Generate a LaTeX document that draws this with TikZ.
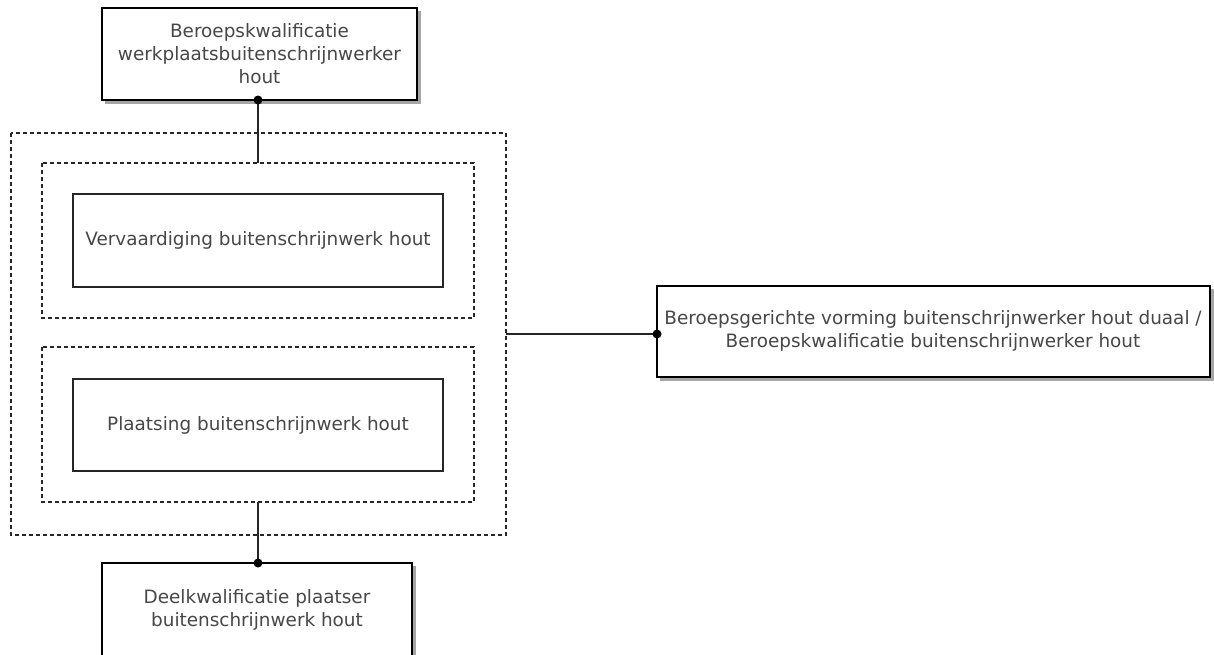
\documentclass[tikz,border=0pt]{standalone}
\usepackage{fontspec}
\setmainfont{DejaVu Sans}
\begin{document}
\begin{tikzpicture}[x=1pt,y=-1pt,
  txt/.style={text=black!72, font=\fontsize{18.4}{23}\selectfont, align=center},
  innerbox/.style={draw=black!85, line width=1.3pt, fill=white},
  thickbox/.style={draw=black, line width=2.8pt, fill=white},
  shadow/.style={fill=black!35},
  dashbox/.style={draw=black!85, line width=1.1pt, dash pattern=on 4pt off 3pt},
  conn/.style={draw=black!85, line width=1.4pt},
  dot/.style={circle, fill=black, inner sep=0pt, minimum size=9pt}]
\useasboundingbox (0,0) rectangle (1214,654);
% shadows
\fill[shadow] (105,11) rectangle (421,104);
\fill[shadow] (105,566) rectangle (416,660);
\fill[shadow] (660,289) rectangle (1214,381);
% dashed containers
\draw[dashbox] (11,133) rectangle (506,535);
\draw[dashbox] (42,163) rectangle (474,318);
\draw[dashbox] (42,347) rectangle (474,502);
% inner boxes
\draw[innerbox] (73,194) rectangle (443,287);
\node[txt] (v) at (258,240.5) {Vervaardiging buitenschrijnwerk hout};
\draw[innerbox] (73,379) rectangle (443,471);
\node[txt] (p) at (258,425) {Plaatsing buitenschrijnwerk hout};
% thick boxes
\draw[thickbox] (102,8) rectangle (417,100);
\node[txt] (top) at (259.5,54) {Beroepskwalificatie\\werkplaatsbuitenschrijnwerker\\hout};
\draw[thickbox] (102,563) rectangle (412,657);
\node[txt] (bot) at (257,610) {Deelkwalificatie plaatser\\buitenschrijnwerk hout};
\draw[thickbox] (657,286) rectangle (1210,377);
\node[txt] (right) at (933,331) {Beroepsgerichte vorming buitenschrijnwerker hout duaal /\\Beroepskwalificatie buitenschrijnwerker hout};
% connectors
\coordinate (topb) at (258,100);
\coordinate (g1t) at (258,163);
\coordinate (g2b) at (258,502);
\coordinate (botb) at (258,563);
\coordinate (outr) at (506,334);
\coordinate (rl) at (657,334);
\draw[conn] (topb) -- (g1t);
\draw[conn] (g2b) -- (botb);
\draw[conn] (outr) -- (rl);
\node[dot] at (topb) {};
\node[dot] at (botb) {};
\node[dot] at (rl) {};
\end{tikzpicture}
\end{document}
